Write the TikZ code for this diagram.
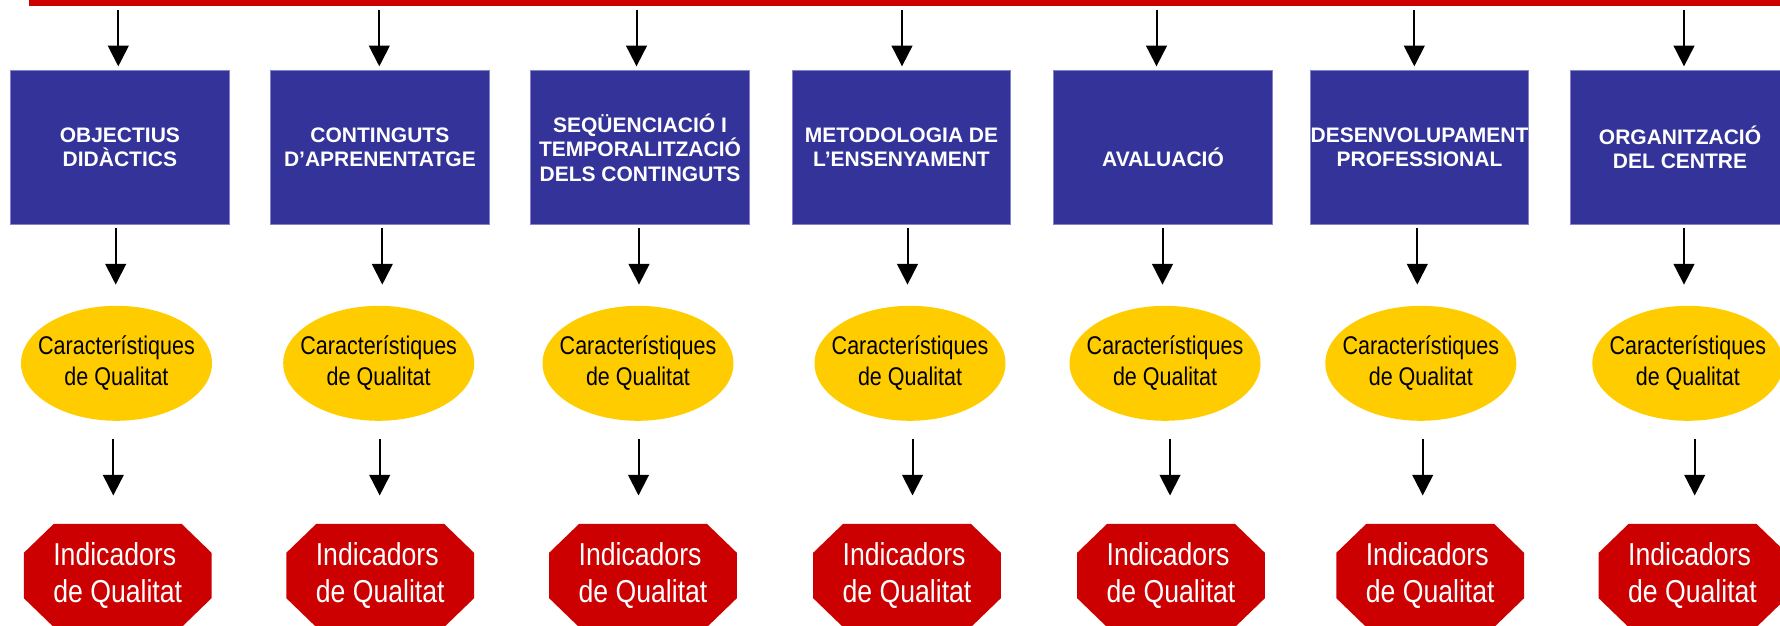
\documentclass[tikz,border=0pt]{standalone}
\usepackage{fontspec}
\setmainfont{Liberation Sans}
\newfontfamily\narrowfont[FakeStretch=0.84]{Liberation Sans}
\usetikzlibrary{arrows.meta,shapes.geometric,backgrounds}
\definecolor{boxblue}{RGB}{51,51,153}
\definecolor{boxedge}{RGB}{130,130,200}
\definecolor{ellyellow}{RGB}{255,204,0}
\definecolor{octred}{RGB}{204,0,0}
\begin{document}
\begin{tikzpicture}[x=1pt,y=-1pt,
  bluebox/.style={fill=boxblue, draw=boxedge, line width=0.6pt, minimum width=218.5pt, minimum height=153.3pt, inner sep=0pt, text=white, align=center, font=\bfseries\fontsize{21}{24.5}\selectfont},
  qualell/.style={ellipse, fill=ellyellow, minimum width=191pt, minimum height=115pt, inner xsep=-20pt, inner ysep=0pt, align=center, font=\narrowfont\fontsize{25.6}{31}\selectfont},
  indoct/.style={minimum width=187.3pt, minimum height=103pt, inner sep=0pt, text=white, align=left, font=\narrowfont\fontsize{31.7}{37.3}\selectfont},
  arr/.style={line width=2pt, -{Triangle[width=20.7pt,length=20.7pt]}}]
\useasboundingbox (0,0) rectangle (1780,626);

\node[fill=octred, minimum width=1751pt, minimum height=6pt, inner sep=0pt, anchor=north west] (bar) at (29,0) {};

\node[bluebox] (b1) at (119.9,147.3) {OBJECTIUS\\DIDÀCTICS};
\node[bluebox] (b2) at (379.9,147.3) {CONTINGUTS\\D’APRENENTATGE};
\node[bluebox] (b3) at (640,147.3) {SEQÜENCIACIÓ I\\TEMPORALITZACIÓ\\DELS CONTINGUTS};
\node[bluebox] (b4) at (901.5,147.3) {METODOLOGIA DE\\L’ENSENYAMENT};
\node[bluebox] (b5) at (1163,147.3) {\phantom{A}\\AVALUACIÓ};
\node[bluebox] (b6) at (1419.5,147.3) {DESENVOLUPAMENT\\PROFESSIONAL};
\node[bluebox] (b7) at (1680,147.3) {ORGANITZACIÓ\\DEL CENTRE};

\foreach \i/\x in {1/116.5, 2/378.7, 3/638, 4/910, 5/1165, 6/1420.8, 7/1687.8}{
  \node[qualell] (e\i) at (\x,363.3) {Característiques\\de Qualitat};
}

\foreach \i/\x in {1/117.7, 2/380.2, 3/643, 4/907, 5/1171, 6/1430.2, 7/1692.5}{
  \node[indoct] (o\i) at (\x,575.5) {Indicadors\\de Qualitat};
}

\begin{scope}[on background layer]
\foreach \i in {1,...,7}{
  \fill[octred] ([xshift=30pt]o\i.north west) -- ([xshift=-30pt]o\i.north east) -- ([yshift=-29pt]o\i.north east) -- ([yshift=29pt]o\i.south east) -- ([xshift=-30pt]o\i.south east) -- ([xshift=30pt]o\i.south west) -- ([yshift=29pt]o\i.south west) -- ([yshift=-29pt]o\i.north west) -- cycle;
}
\end{scope}

\foreach \i/\ta/\ma/\la in {1/118.3/115.7/113.3, 2/379.3/382.3/379.7, 3/636.5/639/638.5, 4/902/907.5/912.5, 5/1156.5/1162.5/1170, 6/1414.3/1417.3/1422.7, 7/1684/1684/1694.7}{
  \draw[arr, shorten <=4pt, shorten >=4pt] (bar.south -| \ta,0) -- (b\i.north -| \ta,0);
  \draw[arr, shorten <=4pt, shorten >=21pt] (b\i.south -| \ma,0) -- (e\i.north -| \ma,0);
  \draw[arr, shorten <=18.3pt, shorten >=28.3pt] (e\i.south -| \la,0) -- (o\i.north -| \la,0);
}
\end{tikzpicture}
\end{document}
